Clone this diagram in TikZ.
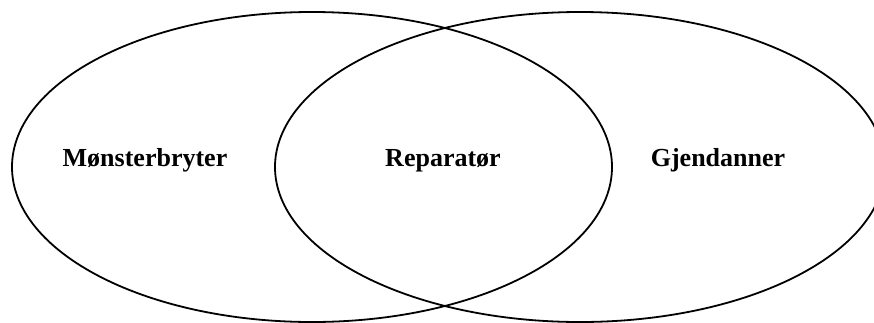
\documentclass[tikz,border=0pt]{standalone}
\usepackage{fontspec}
\setmainfont{Liberation Serif}
\begin{document}
\begin{tikzpicture}[x=1pt,y=-1pt,
  set/.style={draw=black,line width=1.8pt},
  lbl/.style={font=\fontsize{26}{30}\selectfont\bfseries,anchor=base,inner sep=0pt}]
\useasboundingbox (0,0) rectangle (874,322);
\draw[set] (312,167) ellipse [x radius=300, y radius=155];
\draw[set] (580,167) ellipse [x radius=305, y radius=155];
\node[lbl] (left) at (145,166) {Mønsterbryter};
\node[lbl] (mid) at (443,166) {Reparatør};
\node[lbl] (right) at (718,166) {Gjendanner};
\end{tikzpicture}
\end{document}
